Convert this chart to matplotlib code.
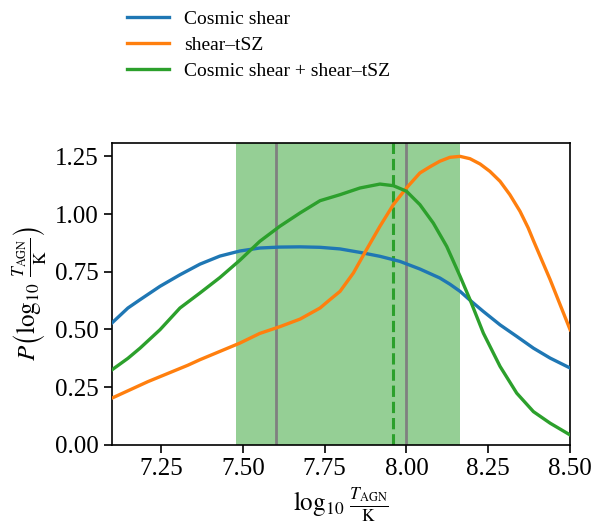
import numpy as np
import matplotlib
matplotlib.use("Agg")
import matplotlib.pyplot as plt

plt.rcParams['font.family'] = ['Liberation Serif', 'DejaVu Serif']
plt.rcParams['mathtext.fontset'] = 'stix'

# Cosmic shear
x_cs = [7.1, 7.149, 7.186, 7.247, 7.308, 7.369, 7.43, 7.491, 7.552, 7.613, 7.675, 7.736,
        7.797, 7.858, 7.919, 7.98, 8.041, 8.102, 8.133, 8.164, 8.194, 8.235, 8.286, 8.337,
        8.388, 8.439, 8.5]
y_cs = [0.528, 0.593, 0.629, 0.687, 0.737, 0.783, 0.818, 0.84, 0.853, 0.857, 0.858, 0.856,
        0.849, 0.834, 0.817, 0.795, 0.762, 0.723, 0.696, 0.665, 0.627, 0.578, 0.52, 0.47,
        0.419, 0.376, 0.333]

# shear-tSZ
x_tsz = [7.1, 7.21, 7.332, 7.369, 7.43, 7.491, 7.552, 7.613, 7.675, 7.736, 7.766, 7.797,
         7.838, 7.878, 7.919, 7.96, 8.0, 8.041, 8.072, 8.102, 8.133, 8.164, 8.194, 8.225,
         8.255, 8.286, 8.316, 8.347, 8.372, 8.388, 8.439, 8.5]
y_tsz = [0.2025, 0.274, 0.345, 0.369, 0.405, 0.441, 0.483, 0.512, 0.545, 0.593, 0.629, 0.665,
         0.745, 0.846, 0.947, 1.041, 1.113, 1.178, 1.205, 1.229, 1.246, 1.25, 1.24, 1.217,
         1.185, 1.142, 1.084, 1.012, 0.94, 0.885, 0.716, 0.499]

# Cosmic shear + shear-tSZ
x_comb = [7.1, 7.149, 7.186, 7.247, 7.308, 7.369, 7.43, 7.491, 7.552, 7.613, 7.675,
          7.736, 7.797, 7.858, 7.919, 7.96, 8.0, 8.041, 8.082, 8.123, 8.164, 8.194, 8.235,
          8.286, 8.337, 8.388, 8.439, 8.5]
y_comb = [0.325, 0.375, 0.419, 0.499, 0.593, 0.658, 0.725, 0.80, 0.882, 0.947, 1.005,
          1.058, 1.084, 1.113, 1.13, 1.123, 1.099, 1.041, 0.961, 0.86, 0.73, 0.63, 0.484,
          0.34, 0.224, 0.144, 0.094, 0.043]

band = (7.478, 8.164)
gray_lines = [7.60, 8.00]
best_fit = 7.96

fig = plt.figure(figsize=(5.92, 5.24), dpi=100)
ax = fig.add_axes([0.189, 0.151, 0.774, 0.577])

ax.axvspan(band[0], band[1], color='#2ca02c', alpha=0.5, lw=0, zorder=0)
for g in gray_lines:
    ax.axvline(g, color='gray', lw=2, zorder=1)
ax.axvline(best_fit, color='#2ca02c', lw=2.2, ls='--', zorder=1)

ax.plot(x_cs, y_cs, color='#1f77b4', lw=2.4, label='Cosmic shear', zorder=3)
ax.plot(x_tsz, y_tsz, color='#ff7f0e', lw=2.4, label='shear–tSZ', zorder=3)
ax.plot(x_comb, y_comb, color='#2ca02c', lw=2.4, label='Cosmic shear + shear–tSZ', zorder=3)

ax.set_xlim(7.1, 8.5)
ax.set_ylim(0, 1.31)
ax.set_xticks([7.25, 7.5, 7.75, 8.0, 8.25, 8.5])
ax.set_yticks([0.0, 0.25, 0.5, 0.75, 1.0, 1.25])
ax.tick_params(labelsize=18, length=6, width=1.2)
ax.set_xlabel(r'$\log_{10}\,\frac{T_{\rm AGN}}{\rm K}$', fontsize=18)
ax.set_ylabel(r'$P\left(\log_{10}\,\frac{T_{\rm AGN}}{\rm K}\right)$', fontsize=18)
for s in ax.spines.values():
    s.set_linewidth(1.2)

fig.legend(loc='upper left', bbox_to_anchor=(0.185, 1.0145), frameon=False, fontsize=14,
           handlelength=2.15, labelspacing=0.45)

fig.savefig('out.png', dpi=100)
